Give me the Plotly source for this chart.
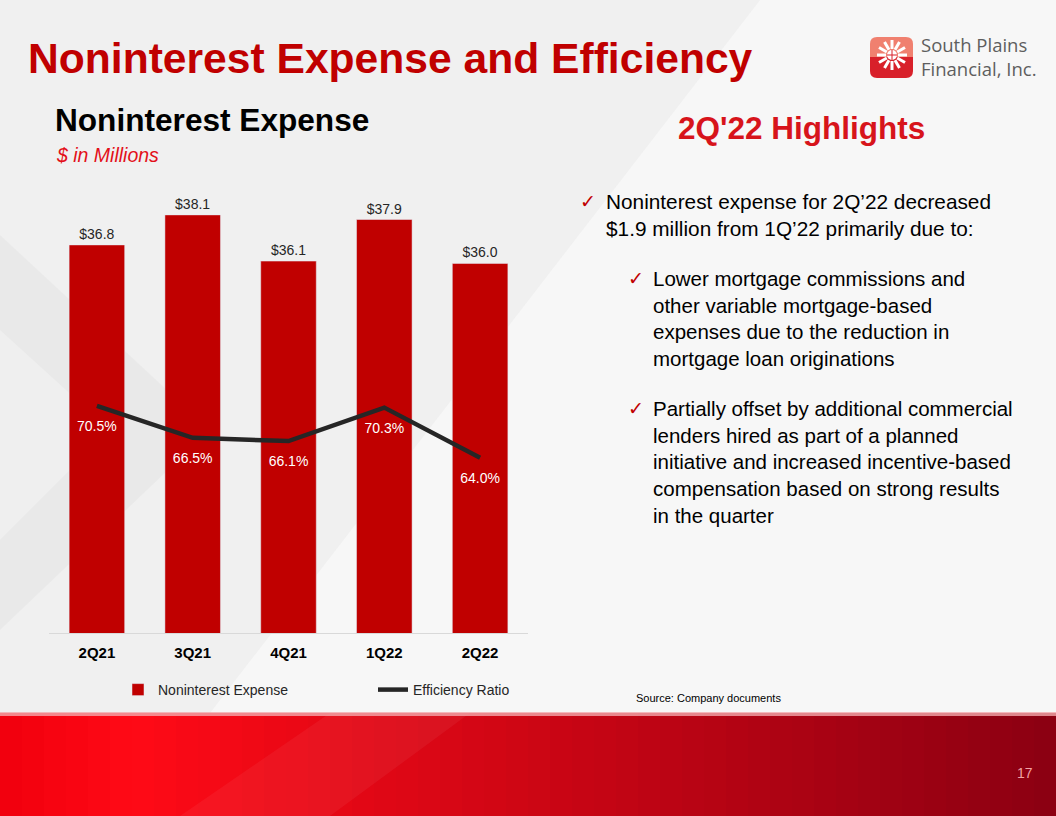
import math
import plotly.graph_objects as go

# --- data ---
quarters = ["2Q21", "3Q21", "4Q21", "1Q22", "2Q22"]
expense = [36.8, 38.1, 36.1, 37.9, 36.0]
efficiency = [70.5, 66.5, 66.1, 70.3, 64.0]
expense_labels = ["$36.8", "$38.1", "$36.1", "$37.9", "$36.0"]
efficiency_labels = ["70.5%", "66.5%", "66.1%", "70.3%", "64.0%"]

W, H = 1056, 816
FONT = "Liberation Sans, Arial, sans-serif"
RED = "#C00000"


def px(x):
    return x / W


def py(y):
    return 1 - y / H


def mix(c1, c2, t):
    a = [int(c1[i:i + 2], 16) for i in (1, 3, 5)]
    b = [int(c2[i:i + 2], 16) for i in (1, 3, 5)]
    return "#" + "".join("%02x" % round(a[k] + (b[k] - a[k]) * t) for k in range(3))


fig = go.Figure()

fig.add_trace(go.Bar(
    x=quarters, y=expense, name="Noninterest Expense",
    marker_color=RED, text=expense_labels, textposition="outside",
    textfont=dict(size=14, color="#262626", family=FONT),
    cliponaxis=False,
))
# invisible markers only push the white labels a little further below the line
fig.add_trace(go.Scatter(
    x=quarters, y=efficiency, name="Efficiency Ratio", yaxis="y2",
    mode="lines+markers+text", line=dict(color="#262626", width=4.5),
    marker=dict(size=22, color="rgba(0,0,0,0)"),
    text=efficiency_labels, textposition="bottom center",
    textfont=dict(size=14, color="white", family=FONT),
    cliponaxis=False,
))

shapes = []

# slide background facets
shapes.append(dict(type="path", xref="paper", yref="paper", layer="below",
                   path="M %f %f L %f %f L %f %f L %f %f Z" % (
                       px(0), py(0), px(760), py(0), px(210), py(713), px(0), py(713)),
                   fillcolor="#EEEEEE", line_width=0, opacity=0.8))
shapes.append(dict(type="path", xref="paper", yref="paper", layer="below",
                   path="M %f %f L %f %f L %f %f Z" % (
                       px(0), py(235), px(210), py(430), px(0), py(630)),
                   fillcolor="#DCDCDC", line_width=0, opacity=0.35))
shapes.append(dict(type="path", xref="paper", yref="paper", layer="below",
                   path="M %f %f L %f %f L %f %f Z" % (
                       px(0), py(330), px(110), py(430), px(0), py(540)),
                   fillcolor="#F4F4F4", line_width=0, opacity=0.6))

# red footer band with a left-to-right gradient
n = 48
for i in range(n):
    t = i / (n - 1)
    if t < 0.12:
        col = mix("#F2000E", "#FF0A16", t / 0.12)
    else:
        col = mix("#FF0A16", "#8C0012", (t - 0.12) / 0.88)
    shapes.append(dict(type="rect", xref="paper", yref="paper", layer="below",
                       x0=px(W * i / n), x1=px(W * (i + 1) / n + 1),
                       y0=py(816), y1=py(713), fillcolor=col, line_width=0))
shapes.append(dict(type="path", xref="paper", yref="paper", layer="below",
                   path="M %f %f L %f %f L %f %f L %f %f Z" % (
                       px(180), py(816), px(330), py(713), px(470), py(713), px(330), py(816)),
                   fillcolor="white", line_width=0, opacity=0.05))
shapes.append(dict(type="rect", xref="paper", yref="paper", layer="below",
                   x0=0, x1=1, y0=py(716), y1=py(712),
                   fillcolor="#F3A9AC", line_width=0, opacity=0.8))

# logo mark
lx0, lx1, ly0, ly1, r = 870, 913, 37, 78, 7
mid = 57
shapes.append(dict(type="path", xref="paper", yref="paper",
                   path="M %f %f L %f %f Q %f %f %f %f L %f %f Q %f %f %f %f L %f %f Z" % (
                       px(lx0), py(mid), px(lx0), py(ly0 + r), px(lx0), py(ly0), px(lx0 + r), py(ly0),
                       px(lx1 - r), py(ly0), px(lx1), py(ly0), px(lx1), py(ly0 + r), px(lx1), py(mid)),
                   fillcolor="#F0806F", line_width=0))
shapes.append(dict(type="path", xref="paper", yref="paper",
                   path="M %f %f L %f %f L %f %f Q %f %f %f %f L %f %f Q %f %f %f %f Z" % (
                       px(lx0), py(mid), px(lx1), py(mid), px(lx1), py(ly1 - r),
                       px(lx1), py(ly1), px(lx1 - r), py(ly1), px(lx0 + r), py(ly1),
                       px(lx0), py(ly1), px(lx0), py(ly1 - r)),
                   fillcolor="#D8202A", line_width=0))
cx, cy = 892, 55
for k in range(12):
    a = 2 * math.pi * k / 12
    shapes.append(dict(type="line", xref="paper", yref="paper",
                       x0=px(cx + 6 * math.cos(a)), y0=py(cy + 6 * math.sin(a)),
                       x1=px(cx + 15 * math.cos(a)), y1=py(cy + 15 * math.sin(a)),
                       line=dict(color="white", width=3)))
shapes.append(dict(type="circle", xref="paper", yref="paper",
                   x0=px(cx - 5), x1=px(cx + 5), y0=py(cy + 5), y1=py(cy - 5),
                   fillcolor="white", line_width=0))
shapes.append(dict(type="line", xref="paper", yref="paper",
                   x0=px(cx - 5), x1=px(cx + 5), y0=py(cy), y1=py(cy),
                   line=dict(color="#D8202A", width=1)))
shapes.append(dict(type="line", xref="paper", yref="paper",
                   x0=px(cx), x1=px(cx), y0=py(cy - 5), y1=py(cy + 5),
                   line=dict(color="#D8202A", width=1)))

annotations = []


def note(text, x, y, size, color="black", bold=False, italic=False,
         xanchor="left", yanchor="middle", family=FONT, align="left"):
    if bold:
        text = "<b>" + text + "</b>"
    if italic:
        text = "<i>" + text + "</i>"
    annotations.append(dict(text=text, x=px(x), y=py(y), xref="paper", yref="paper",
                            xanchor=xanchor, yanchor=yanchor, showarrow=False, align=align,
                            font=dict(size=size, color=color, family=family)))


note("Noninterest Expense and Efficiency", 26, 58, 42.6, RED, bold=True)
note("Noninterest Expense", 53, 120, 31.6, "black", bold=True)
note("$ in Millions", 54, 155, 19.5, "#E3101A", italic=True)
note("2Q'22 Highlights", 801, 128, 31.5, "#D7141B", bold=True, xanchor="center")

note("South Plains<br>Financial, Inc.", 919, 57, 18.5, "#5E5E5E",
     family="Open Sans, Noto Sans, sans-serif")

note("\u2713", 578, 201, 19, "#C00000", family="DejaVu Sans")
note("Noninterest expense for 2Q\u201922 decreased<br>$1.9 million from 1Q\u201922 primarily due to:",
     604, 188, 20.8, "black", yanchor="top")
note("\u2713", 626, 278, 19, "#C00000", family="DejaVu Sans")
note("Lower mortgage commissions and<br>other variable mortgage-based<br>"
     "expenses due to the reduction in<br>mortgage loan originations",
     651, 265, 20.5, "black", yanchor="top")
note("\u2713", 626, 408, 19, "#C00000", family="DejaVu Sans")
note("Partially offset by additional commercial<br>lenders hired as part of a planned<br>"
     "initiative and increased incentive-based<br>compensation based on strong results<br>"
     "in the quarter",
     651, 395, 20.5, "black", yanchor="top")

note("Source: Company documents", 634, 698, 11, "black",
     family="Liberation Sans Narrow, Liberation Sans, Arial, sans-serif")
note("17", 1025, 773, 14, "#F2A3A6", xanchor="center")

fig.update_layout(
    width=W, height=H,
    margin=dict(l=0, r=0, t=0, b=0),
    paper_bgcolor="#F7F7F7",
    plot_bgcolor="rgba(0,0,0,0)",
    font=dict(family=FONT, color="#262626"),
    bargap=0.42,
    showlegend=True,
    legend=dict(orientation="h", x=px(118), y=py(690), xanchor="left", yanchor="middle",
                bgcolor="rgba(0,0,0,0)", font=dict(size=14, color="#262626"),
                entrywidth=210, traceorder="normal"),
    xaxis=dict(domain=[px(49), px(528)], showgrid=False, showline=True,
               linecolor="#D9D9D9", linewidth=1, ticks="", ticklabelstandoff=6,
               tickfont=dict(size=15, color="black", family=FONT, weight="bold")),
    yaxis=dict(domain=[py(633), py(171)], range=[20, 40], visible=False),
    yaxis2=dict(overlaying="y", side="right", range=[42, 100], visible=False),
    shapes=shapes,
    annotations=annotations,
)

fig.write_html("out.html", config={"displayModeBar": False},
               post_script="document.body.style.margin='0';document.body.style.overflow='hidden';")
